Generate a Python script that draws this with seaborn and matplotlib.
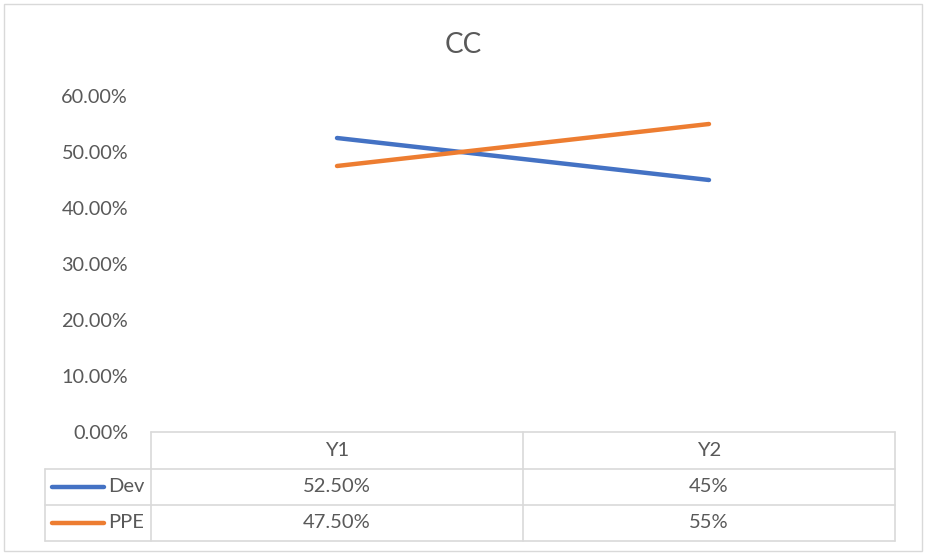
import matplotlib
matplotlib.use("Agg")
import matplotlib.pyplot as plt
from matplotlib.lines import Line2D
from matplotlib.patches import Rectangle
import pandas as pd
import seaborn as sns

# Chart data
title = "CC"
categories = ["Y1", "Y2"]
series_names = ["Dev", "PPE"]
dev_values = [0.525, 0.45]
ppe_values = [0.475, 0.55]
column_formats = ["{:.2%}", "{:.0%}"]
y_ticks = [0.0, 0.1, 0.2, 0.3, 0.4, 0.5, 0.6]
series_colors = ["#4472C4", "#ED7D31"]

sns.set_theme(style="white")
plt.rcParams["font.family"] = ["Lato", "DejaVu Sans"]

TEXT = "#595959"
GRID = "#D9D9D9"
W, H = 927, 556

fig = plt.figure(figsize=(W / 100, H / 100), dpi=100)
fig.patch.set_facecolor("white")


def fx(x):
    return x / W


def fy(y):
    return 1 - y / H


# outer chart border
fig.add_artist(Rectangle((fx(4), fy(551)), fx(918), (547) / H, transform=fig.transFigure,
                         fill=False, edgecolor=GRID, linewidth=1.0))

# plot area
left, right, top, bottom = 151, 895, 96, 432
ax = fig.add_axes([fx(left), fy(bottom), (right - left) / W, (bottom - top) / H])
ax.set_facecolor("none")

df = pd.DataFrame({
    "category": categories * 2,
    "pos": list(range(len(categories))) * 2,
    "series": [series_names[0]] * len(categories) + [series_names[1]] * len(categories),
    "value": dev_values + ppe_values,
})
sns.lineplot(data=df, x="pos", y="value", hue="series", palette=series_colors,
             linewidth=3.2, ax=ax, legend=False)
for ln in ax.lines:
    ln.set_solid_capstyle("round")

ax.set_xlim(-0.5, len(categories) - 0.5)
ax.set_ylim(0, 0.6)
ax.set_yticks(y_ticks)
ax.set_yticklabels([f"{t:.2%}" for t in y_ticks], color=TEXT, fontsize=14.3)
ax.tick_params(axis="y", length=0, pad=16.5)
ax.set_xticks([])
ax.set_xlabel("")
ax.set_ylabel("")
for s in ax.spines.values():
    s.set_visible(False)

fig.text(fx(463), fy(45), title, ha="center", va="center", fontsize=20, color=TEXT)

# data table below the plot area
row_edges = [432, 469, 505, 541]
col_edges = [45, 151, 523, 895]


def hline(y, x0, x1):
    fig.add_artist(Line2D([fx(x0), fx(x1)], [fy(y), fy(y)], transform=fig.transFigure,
                          color=GRID, linewidth=1.2))


def vline(x, y0, y1):
    fig.add_artist(Line2D([fx(x), fx(x)], [fy(y0), fy(y1)], transform=fig.transFigure,
                          color=GRID, linewidth=1.2))


hline(row_edges[0], col_edges[1], col_edges[3])
for y in row_edges[1:]:
    hline(y, col_edges[0], col_edges[3])
vline(col_edges[0], row_edges[1], row_edges[3])
for x in col_edges[1:]:
    vline(x, row_edges[0], row_edges[3])

TABLE_FS = 14.5
for j, cat in enumerate(categories):
    cx = (col_edges[j + 1] + col_edges[j + 2]) / 2
    cy = (row_edges[0] + row_edges[1]) / 2
    fig.text(fx(cx), fy(cy), cat, ha="center", va="center", fontsize=TABLE_FS, color=TEXT)

for i, (name, vals, col) in enumerate(zip(series_names, [dev_values, ppe_values], series_colors)):
    cy = (row_edges[i + 1] + row_edges[i + 2]) / 2
    fig.add_artist(Line2D([fx(52), fx(104)], [fy(cy), fy(cy)], transform=fig.transFigure,
                          color=col, linewidth=3.2, solid_capstyle="round"))
    fig.text(fx(108), fy(cy), name, ha="left", va="center", fontsize=TABLE_FS, color=TEXT)
    for j, v in enumerate(vals):
        cx = (col_edges[j + 1] + col_edges[j + 2]) / 2
        fig.text(fx(cx), fy(cy), column_formats[j].format(v), ha="center", va="center",
                 fontsize=TABLE_FS, color=TEXT)

fig.savefig("out.png", dpi=100, facecolor="white")
